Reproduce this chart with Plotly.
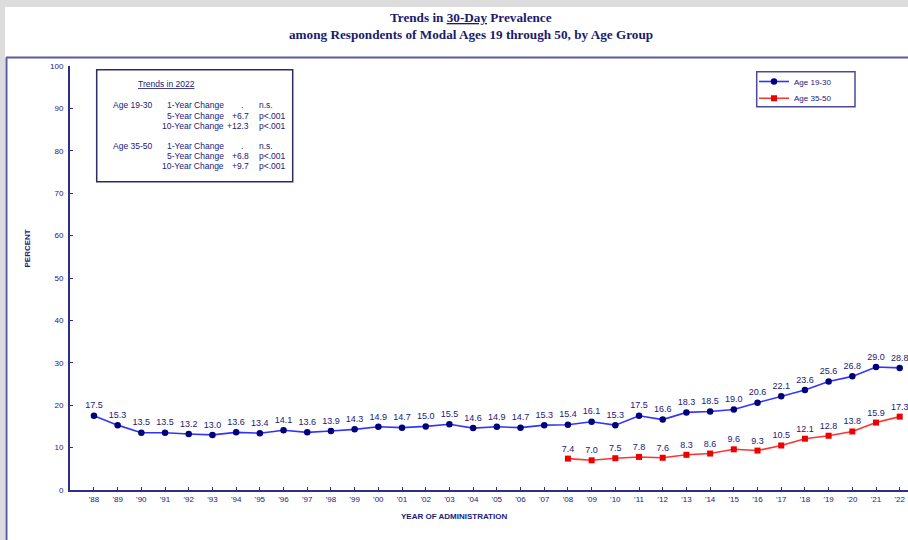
import plotly.graph_objects as go

# ---------------- data ----------------
years = list(range(1988, 2023))
tick_labels = ["'" + str(y)[2:] for y in years]
age_19_30 = [17.5, 15.3, 13.5, 13.5, 13.2, 13.0, 13.6, 13.4, 14.1, 13.6, 13.9, 14.3,
             14.9, 14.7, 15.0, 15.5, 14.6, 14.9, 14.7, 15.3, 15.4, 16.1, 15.3, 17.5,
             16.6, 18.3, 18.5, 19.0, 20.6, 22.1, 23.6, 25.6, 26.8, 29.0, 28.8]
years_35_50 = list(range(2008, 2023))
age_35_50 = [7.4, 7.0, 7.5, 7.8, 7.6, 8.3, 8.6, 9.6, 9.3, 10.5, 12.1, 12.8, 13.8, 15.9, 17.3]

trend_groups = ["Age 19-30", "Age 35-50"]
trend_labels = ["1-Year Change", "5-Year Change", "10-Year Change"]
trend_values = [[".", "+6.7", "+12.3"], [".", "+6.8", "+9.7"]]
trend_sig = [["n.s.", "p<.001", "p<.001"], ["n.s.", "p<.001", "p<.001"]]

# ---------------- layout helpers ----------------
W, H = 908, 540
L, R, T, B = 70, 0, 66, 50
PW, PH = W - L - R, H - T - B


def px(x):
    return (x - L) / PW


def py(y):
    return (H - B - y) / PH


NAVY = "#20207a"
AXIS = "#2e2e88"
SANS = "Liberation Sans, Arial, sans-serif"
SERIF = "Liberation Serif, Times New Roman, serif"

fig = go.Figure()
fig.add_trace(go.Scatter(
    x=years, y=age_19_30, name="Age 19-30", mode="lines+markers+text", legend="legend",
    line=dict(color="#3333ff", width=1.6),
    marker=dict(symbol="circle", size=6.5, color="#00007a", line=dict(color="#00007a", width=0)),
    texttemplate="%{y:.1f}", textposition="top center",
    textfont=dict(family=SANS, size=9, color=NAVY), cliponaxis=False,
))
fig.add_trace(go.Scatter(
    x=years_35_50, y=age_35_50, name="Age 35-50", mode="lines+markers+text", legend="legend2",
    line=dict(color="#ff3333", width=1.6),
    marker=dict(symbol="square", size=6, color="#ee0000"),
    texttemplate="%{y:.1f}", textposition="top center",
    textfont=dict(family=SANS, size=9, color=NAVY), cliponaxis=False,
))

shapes = [
    # gray page strips
    dict(type="rect", xref="paper", yref="paper", x0=px(0), x1=px(W), y0=py(7), y1=py(0),
         fillcolor="#dcdcdc", line=dict(width=0), layer="below"),
    dict(type="rect", xref="paper", yref="paper", x0=px(0), x1=px(5), y0=py(H), y1=py(0),
         fillcolor="#dcdcdc", line=dict(width=0), layer="below"),
    # outer frame
    dict(type="line", xref="paper", yref="paper", x0=px(6), x1=px(W), y0=py(57.5), y1=py(57.5),
         line=dict(color="#5a5aa8", width=2)),
    dict(type="line", xref="paper", yref="paper", x0=px(6.5), x1=px(6.5), y0=py(57.5), y1=py(H),
         line=dict(color="#5a5aa8", width=2)),
    # trends box
    dict(type="rect", xref="paper", yref="paper", x0=px(96.7), x1=px(292.7), y0=py(181.7), y1=py(69.7),
         fillcolor="white", line=dict(color="#2b2b66", width=1.5)),
    # legend box
    dict(type="rect", xref="paper", yref="paper", x0=px(756.7), x1=px(855), y0=py(106.7), y1=py(71.7),
         fillcolor="white", line=dict(color="#4a4a99", width=1.5)),
]

annotations = [
    dict(text="<b>Trends in <u>30-Day</u> Prevalence</b>", x=px(471), y=py(17)),
    dict(text="<b>among Respondents of Modal Ages 19 through 50, by Age Group</b>", x=px(471), y=py(34)),
]
for a in annotations:
    a.update(xref="paper", yref="paper", showarrow=False, xanchor="center", yanchor="middle",
             font=dict(family=SERIF, size=13.2, color="#1a1a6e"))

annotations.append(dict(text="<b>PERCENT</b>", x=px(20), y=py(249), textangle=-90,
                        xref="paper", yref="paper", showarrow=False,
                        font=dict(family=SANS, size=8, color=NAVY)))
annotations.append(dict(text="<b>YEAR OF ADMINISTRATION</b>", x=px(454), y=py(523),
                        xref="paper", yref="paper", showarrow=False,
                        font=dict(family=SANS, size=8, color=NAVY)))

small = dict(family=SANS, size=8.5, color=NAVY)
annotations.append(dict(text="<u>Trends in 2022</u>", x=px(166), y=py(84), xref="paper", yref="paper",
                        showarrow=False, xanchor="center", yanchor="middle", font=small))
row_y = [[105.3, 115.7, 126.0], [146.0, 155.7, 165.5]]
for g, group in enumerate(trend_groups):
    annotations.append(dict(text=group, x=px(111), y=py(row_y[g][0]), xanchor="left"))
    for r in range(3):
        annotations.append(dict(text=trend_labels[r], x=px(225.5), y=py(row_y[g][r]), xanchor="right"))
        if trend_values[g][r] == ".":
            annotations.append(dict(text=".", x=px(242), y=py(row_y[g][r]), xanchor="center"))
        else:
            annotations.append(dict(text=trend_values[g][r], x=px(250.5), y=py(row_y[g][r]), xanchor="right"))
        annotations.append(dict(text=trend_sig[g][r], x=px(256.5), y=py(row_y[g][r]), xanchor="left"))
for a in annotations[5:]:
    a.setdefault("xref", "paper")
    a.setdefault("yref", "paper")
    a.setdefault("showarrow", False)
    a.setdefault("yanchor", "middle")
    a.setdefault("font", small)

legend_common = dict(xanchor="left", yanchor="top", borderwidth=0, bgcolor="rgba(0,0,0,0)",
                     font=dict(family=SANS, size=8, color=NAVY), itemwidth=30)

fig.update_layout(
    width=W, height=H, margin=dict(l=L, r=R, t=T, b=B, pad=0),
    paper_bgcolor="white", plot_bgcolor="white",
    shapes=shapes, annotations=annotations,
    showlegend=True,
    legend=dict(x=px(754), y=py(67), **legend_common),
    legend2=dict(x=px(754), y=py(83.7), **legend_common),
    xaxis=dict(range=[1986.99, 2022.35], tickvals=years, ticktext=tick_labels,
               showline=True, linecolor=AXIS, linewidth=2, ticks="inside", ticklen=3,
               tickcolor=AXIS, tickwidth=1, showgrid=False, zeroline=False,
               tickfont=dict(family=SANS, size=8, color=NAVY)),
    yaxis=dict(range=[0, 100], dtick=10, showline=True, linecolor=AXIS, linewidth=2,
               ticks="inside", ticklen=3, tickcolor=AXIS, tickwidth=1, showgrid=False,
               zeroline=False, ticklabelstandoff=3,
               tickfont=dict(family=SANS, size=8, color=NAVY)),
)

fig.write_html("out.html", config={"displayModeBar": False},
               post_script="document.body.style.margin='0px';document.body.style.padding='0px';")
